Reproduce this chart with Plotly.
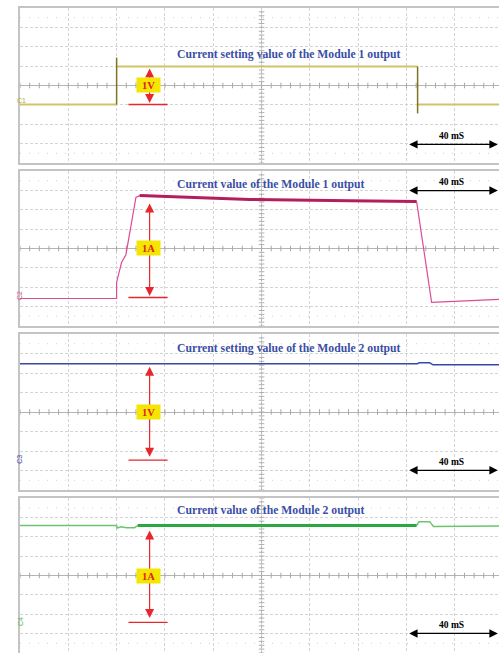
import plotly.graph_objects as go
import numpy as np

W, H = 499, 653
T0, T1 = -40.0, 158.3          # visible time window, ms (trigger at 0)

# ---------------- data (time in ms, amplitude in divisions) ----------------
# Panel 1: current setting value, module 1
p1_level_t = [-40, 0, None, 0, 124.6, None, 124.6, 158.3]
p1_level_v = [-0.98, -0.98, None, 0.98, 0.98, None, -0.98, -0.98]
p1_edge_t = [0, 0, None, 124.6, 124.6]
p1_edge_v = [-0.98, 1.44, None, 0.98, -1.44]

# Panel 2: current value, module 1
p2_thin_t = [-40, 0, 0, 2.07, 3.85, 7.99, 9.5, None, 124.2, 130.4, 158.3]
p2_thin_v = [-2.58, -2.58, -1.74, -0.71, -0.32, 2.64, 2.73, None, 2.42, -2.78, -2.63]
p2_thick_t = [9.5, 34.4, 55.1, 96.5, 124.2]
p2_thick_v = [2.73, 2.60, 2.53, 2.47, 2.42]

# Panel 3: current setting value, module 2
p3_t = [-40, 20, 60, 100, 124.5, 125.2, 129.6, 131.0, 158.3]
p3_v = [2.47, 2.48, 2.47, 2.46, 2.47, 2.52, 2.52, 2.42, 2.42]

# Panel 4: current value, module 2
p4_thin_t = [-40, 0, 0.2, 1.95, 4.0, 7.45, 8.7, None, 124.2, 125.2, 129.6, 131.2, 158.3]
p4_thin_v = [2.58, 2.58, 2.45, 2.52, 2.47, 2.47, 2.58, None, 2.58, 2.78, 2.78, 2.53, 2.55]
p4_thick_t = [8.7, 124.2]
p4_thick_v = [2.58, 2.58]

titles = ["Current setting value of the Module 1 output",
          "Current value of the Module 1 output",
          "Current setting value of the Module 2 output",
          "Current value of the Module 2 output"]
title_y = [1.6, 3.3, 3.25, 3.35]
scale_labels = ["1V", "1A", "1V", "1A"]
arrow_top = [0.88, 2.32, 2.32, 2.32]
arrow_bot = [-0.98, -2.53, -2.37, -2.27]
base_line = [-0.98, -2.53, -2.47, -2.42]
ms_arrow_y = [-3.04, 2.99, -2.99, -2.99]
ms_text_y = [-2.63, 3.45, -2.58, -2.53]
ch_names = ["C1", "C2", "C3", "C4"]
ch_y = [-0.75, -2.45, -2.45, -2.4]
ch_colors = ["#b5ab3a", "#d8508e", "#3c4aa8", "#5cb85c"]
marker_colors = ["#b5ab3a", "#e0308a", "#3448a8", None]

# panel pixel extents (top, bottom)
panels_px = [(8, 163), (171, 326), (334, 490), (498, 653)]

fig = go.Figure()
SERIF = "Liberation Serif, Times New Roman, serif"
RED = "#e8262c"
GRID = "#d4d4d4"

layout = dict(width=W, height=H, margin=dict(l=0, r=0, t=0, b=0),
              paper_bgcolor="white", plot_bgcolor="white", showlegend=False)

annotations = []
shapes = []
for i, (top, bot) in enumerate(panels_px):
    n = "" if i == 0 else str(i + 1)
    xa, ya = "x" + n, "y" + n
    layout["xaxis" + n] = dict(domain=[20 / W, 1], range=[T0, T1], anchor=ya,
                               showticklabels=False, ticks="", tick0=-40, dtick=20,
                               showgrid=True, gridcolor=GRID, griddash="3px,2px", gridwidth=1,
                               zeroline=False, showline=True, mirror=True,
                               linecolor="#c4c4c4", linewidth=1.5)
    layout["yaxis" + n] = dict(domain=[max(0, 1 - bot / H), 1 - top / H], range=[-4, 4],
                               anchor=xa, showticklabels=False, ticks="", tick0=-4, dtick=1,
                               showgrid=True, gridcolor=GRID, griddash="3px,2px", gridwidth=1,
                               zeroline=True, zerolinecolor="#b4b4b4", zerolinewidth=1,
                               showline=True, mirror=False, linecolor="#c4c4c4", linewidth=1.5)
    # centre vertical line
    shapes.append(dict(type="line", xref=xa, yref=ya + " domain", x0=60, x1=60, y0=0, y1=1,
                       line=dict(color="#b4b4b4", width=1), layer="below"))
    # centre-line tick marks
    tx = np.arange(-40, 160, 4.0)
    fig.add_trace(go.Scatter(x=tx, y=np.zeros_like(tx), xaxis=xa, yaxis=ya, mode="markers",
                             marker=dict(symbol="line-ns", size=4, line=dict(color="#a8a8a8", width=1)),
                             hoverinfo="skip"))
    ty = np.arange(-4, 4.01, 0.2)
    fig.add_trace(go.Scatter(x=np.full_like(ty, 60), y=ty, xaxis=xa, yaxis=ya, mode="markers",
                             marker=dict(symbol="line-ew", size=4, line=dict(color="#b0b0b0", width=1)),
                             hoverinfo="skip"))
    # sparse dotted rows
    for yy in (3.5, -3.5):
        fig.add_trace(go.Scatter(x=[T0, T1], y=[yy, yy], xaxis=xa, yaxis=ya, mode="lines",
                                 line=dict(color="#d0d0d0", width=1, dash="1px,8px"), hoverinfo="skip"))

    # title
    annotations.append(dict(x=24.0, y=title_y[i], xref=xa, yref=ya, text="<b>%s</b>" % titles[i],
                            showarrow=False, xanchor="left", yanchor="middle",
                            font=dict(family=SERIF, size=11.7, color="#3a4ea6")))
    # red double arrow + base line + label
    annotations.append(dict(x=13.66, y=arrow_top[i], ax=13.66, ay=arrow_bot[i], xref=xa, yref=ya,
                            axref=xa, ayref=ya, text="", showarrow=True, arrowside="end+start",
                            arrowhead=2, arrowsize=1.5, arrowwidth=1.2, arrowcolor=RED,
                            standoff=0, startstandoff=0))
    fig.add_trace(go.Scatter(x=[4.9, 21.1], y=[base_line[i]] * 2, xaxis=xa, yaxis=ya, mode="lines",
                             line=dict(color=RED, width=1.3), hoverinfo="skip"))
    annotations.append(dict(x=13.4, y=0, xref=xa, yref=ya, text="<b>%s</b>" % scale_labels[i],
                            showarrow=False, bgcolor="#f4e600", borderpad=1, width=21, height=12,
                            font=dict(family=SERIF, size=10.5, color="#e02020")))
    # 40 mS arrow
    annotations.append(dict(x=157.8, y=ms_arrow_y[i], ax=120.5, ay=ms_arrow_y[i], xref=xa, yref=ya,
                            axref=xa, ayref=ya, text="", showarrow=True, arrowside="end+start",
                            arrowhead=2, arrowsize=1.4, arrowwidth=1.2, arrowcolor="black",
                            standoff=0, startstandoff=0))
    annotations.append(dict(x=138.7, y=ms_text_y[i], xref=xa, yref=ya, text="<b>40 mS</b>",
                            showarrow=False, font=dict(family=SERIF, size=9.5, color="black")))
    # channel label
    annotations.append(dict(x=14.5 / W, y=ch_y[i], xref="paper", yref=ya, text=ch_names[i],
                            showarrow=False, textangle=0 if i == 0 else -90,
                            font=dict(family="Liberation Sans, Arial", size=7, color=ch_colors[i])))
    # trigger marker below panel
    if marker_colors[i]:
        fig.add_trace(go.Scatter(x=[0], y=[-4.17], xaxis=xa, yaxis=ya, mode="markers", cliponaxis=False,
                                 marker=dict(symbol="triangle-up", size=6, color=marker_colors[i]),
                                 hoverinfo="skip"))

# signals
fig.add_trace(go.Scatter(x=p1_level_t, y=p1_level_v, xaxis="x", yaxis="y", mode="lines",
                         line=dict(color="#cfc46a", width=2), hoverinfo="skip"))
fig.add_trace(go.Scatter(x=p1_edge_t, y=p1_edge_v, xaxis="x", yaxis="y", mode="lines",
                         line=dict(color="#7e7422", width=1.5), hoverinfo="skip"))
fig.add_trace(go.Scatter(x=p2_thin_t, y=p2_thin_v, xaxis="x2", yaxis="y2", mode="lines",
                         line=dict(color="#de4a98", width=1.2), hoverinfo="skip"))
fig.add_trace(go.Scatter(x=p2_thick_t, y=p2_thick_v, xaxis="x2", yaxis="y2", mode="lines",
                         line=dict(color="#b31e5c", width=3), hoverinfo="skip"))
fig.add_trace(go.Scatter(x=p3_t, y=p3_v, xaxis="x3", yaxis="y3", mode="lines",
                         line=dict(color="#3848a8", width=1.5), hoverinfo="skip"))
fig.add_trace(go.Scatter(x=p4_thin_t, y=p4_thin_v, xaxis="x4", yaxis="y4", mode="lines",
                         line=dict(color="#6cc46c", width=1.5), hoverinfo="skip"))
fig.add_trace(go.Scatter(x=p4_thick_t, y=p4_thick_v, xaxis="x4", yaxis="y4", mode="lines",
                         line=dict(color="#2ca842", width=3), hoverinfo="skip"))

layout["annotations"] = annotations
layout["shapes"] = shapes
fig.update_layout(**layout)
fig.write_html("out.html", config={"displayModeBar": False},
               post_script="document.documentElement.style.margin='0';"
                           "document.body.style.margin='0';document.body.style.padding='0';"
                           "document.body.style.overflow='hidden';")
